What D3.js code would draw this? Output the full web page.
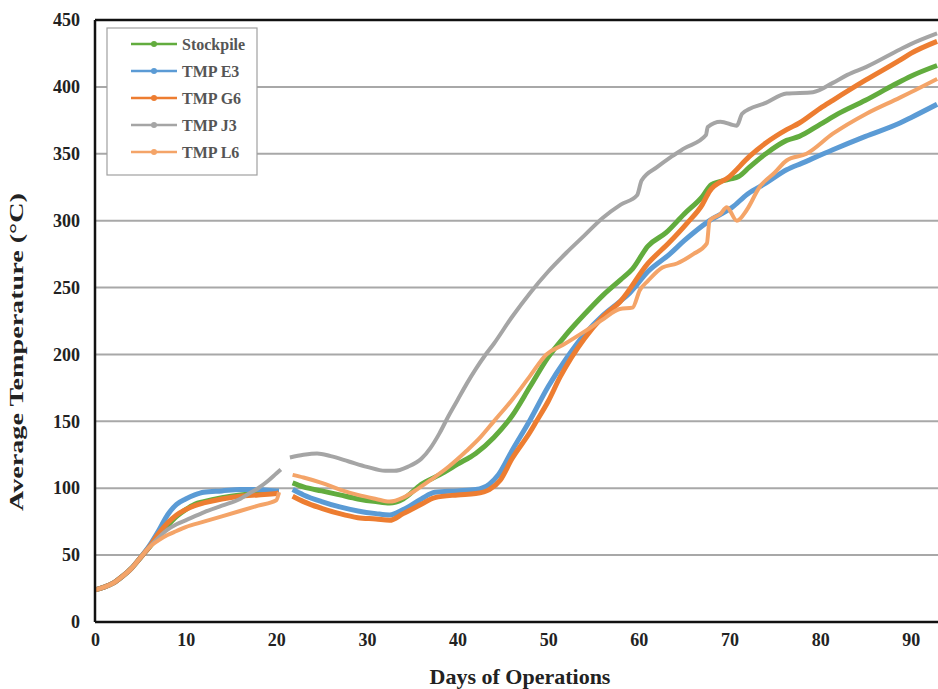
<!DOCTYPE html>
<html>
<head>
<meta charset="utf-8">
<script src="https://cdn.jsdelivr.net/npm/d3@7"></script>
<style>
  body { margin: 0; background: #fff; }
  text { font-family: "Liberation Serif", "Times New Roman", serif; font-weight: bold; }
</style>
</head>
<body>
<svg width="938" height="689"></svg>
<script>
// days / temperature (°C), null = gap in the record
const stockpile = [[0,24],[1,26],[2,29],[3,34],[4,40],[5,48],[6,56],[7,64],[8,72],[9,79],[10,84],[11,88],[12,90],[14,93],[16,95],[18,96],[20,97],[20.3,97],[21,null],
  [21.8,104],[23,101],[25,98],[27,95],[29,92],[31,90],[32.5,89],[34,92],[36,103],[38,110],[40,118],[42,126],[44,138],[46,154],[48,176],[50,198],[52,215],[54,230],[56,244],[58,256],[59.3,264],[61,281],[63,291],[65,305],[67,318],[68,327],[70,331],[71,333],[72.2,340],[74,350],[76.3,360],[77.7,363],[80,372],[82,380],[85,390],[88,401],[90,408],[92.9,416]];
const tmpE3 = [[0,24],[1,26],[2,29],[3,34],[4,40],[5,48],[6,57],[7,68],[8,80],[9,88],[10,92],[11,95],[12,97],[14,98],[16,99],[18,99],[20,98],[20.3,98],[21,null],
  [21.8,99],[23,95],[25,90],[27,86],[29,83],[31,81],[32.5,80],[34,84],[36,92],[37.5,97],[40,98],[42,99],[43.5,103],[44.5,110],[46,128],[48,151],[50,176],[52,197],[54,215],[56,229],[58,240],[59,246],[61,262],[63.4,275],[65,285],[67.8,300],[70.3,310],[72,320],[74,328],[76.3,338],[78,343],[81.4,353],[85,363],[88.8,373],[90,377],[92.9,387]];
const tmpG6 = [[0,24],[1,26],[2,29],[3,34],[4,40],[5,48],[6,56],[7,66],[8,74],[9,80],[10,84],[11,87],[12,89],[14,92],[16,94],[18,95],[20,96],[20.3,97],[21,null],
  [21.8,94],[23,90],[25,85],[27,81],[29,78],[31,77],[32.5,76],[34,81],[36,88],[37.5,93],[40,95],[42,96],[43.5,99],[44.7,106],[46,122],[48,142],[48.7,150],[50,165],[51.3,183],[54,212],[56,228],[58,240],[61,268],[63.4,284],[65.3,298],[67,312],[67.8,322],[70,333],[72.2,348],[74,358],[76.3,368],[77.7,373],[80,384],[81.4,390],[85,405],[88.8,420],[90,425],[92.9,434]];
const tmpJ3 = [[0,24],[1,26],[2,29],[3,34],[4,40],[5,48],[6,56],[7,63],[8,69],[9,73],[10,76],[12,82],[14,87],[16,92],[17,96],[18,100],[19,105],[20,111],[20.5,114],[21,null],
  [21.5,123],[23,125],[24.5,126],[26,124],[28,120],[30,116],[32,113],[33,113],[34.5,116],[36,122],[37,130],[38,141],[39,154],[40,166],[41,178],[42,189],[43,199],[44,208],[46,228],[48,246],[50,262],[52,276],[54,289],[56,302],[58,312],[59.8,319],[60.3,330],[62,340],[63.4,347],[65,354],[67.4,364],[67.6,370],[69,374],[70.8,371],[71.4,380],[74,388],[76.3,395],[79.2,396],[81.4,403],[83,409],[85.1,415],[88.8,428],[90,432],[92.9,440]];
const tmpL6 = [[0,24],[1,26],[2,29],[3,34],[4,40],[5,48],[6,56],[7,61],[8,65],[9,68],[10,71],[12,75],[14,79],[16,83],[18,87],[20,91],[20.3,97],[21,null],
  [21.8,110],[23,108],[25,104],[27,99],[29,95],[31,92],[32.5,90],[34,93],[35.5,99],[37,106],[39,116],[41,128],[42.5,138],[44,150],[46,166],[48,184],[49.8,200],[51.6,207],[54.2,218],[56,226],[57.9,234],[59.3,235],[60.1,248],[61,255],[62.6,265],[64.2,268],[66,275],[67.5,283],[67.8,300],[69,305],[69.7,310],[70.8,300],[71.9,308],[73.3,325],[75,336],[76.3,345],[78.5,350],[81.4,365],[85.1,380],[88.8,392],[90,396],[92.9,406]];

const seriesNames = ["Stockpile", "TMP E3", "TMP G6", "TMP J3", "TMP L6"];
const seriesData = [stockpile, tmpE3, tmpG6, tmpJ3, tmpL6];
const colors = ["#62ac3e", "#5b9bd5", "#ed7d31", "#a5a5a5", "#f4a468"];
const widths = [5, 5, 5, 4, 4];
const xTicks = [0, 10, 20, 30, 40, 50, 60, 70, 80, 90];
const yTicks = [0, 50, 100, 150, 200, 250, 300, 350, 400, 450];

const svg = d3.select("svg");
const x = d3.scaleLinear().domain([0, 93]).range([95, 938]);
const y = d3.scaleLinear().domain([0, 450]).range([622, 20]);

// horizontal grid
svg.append("g")
  .selectAll("line")
  .data(yTicks.slice(1, -1))
  .join("line")
  .attr("x1", x(0)).attr("x2", x(93))
  .attr("y1", d => y(d)).attr("y2", d => y(d))
  .attr("stroke", "#a8a8a8")
  .attr("stroke-width", 2);

// series
const line = d3.line()
  .defined(d => d[1] !== null)
  .x(d => x(d[0]))
  .y(d => y(d[1]))
  .curve(d3.curveMonotoneX);

svg.append("g")
  .selectAll("path")
  .data(seriesData)
  .join("path")
  .attr("d", line)
  .attr("fill", "none")
  .attr("stroke", (d, i) => colors[i])
  .attr("stroke-width", (d, i) => widths[i])
  .attr("stroke-linejoin", "round");

// frame: left, bottom, top
svg.append("line").attr("x1", x(0)).attr("x2", x(0)).attr("y1", y(450)).attr("y2", y(0))
  .attr("stroke", "#111").attr("stroke-width", 2.5);
svg.append("line").attr("x1", x(0)).attr("x2", x(93)).attr("y1", y(0)).attr("y2", y(0))
  .attr("stroke", "#111").attr("stroke-width", 2.5);
svg.append("line").attr("x1", x(0)).attr("x2", x(93)).attr("y1", y(450)).attr("y2", y(450))
  .attr("stroke", "#111").attr("stroke-width", 2.5);

// axes (labels only)
const yAxis = svg.append("g")
  .attr("transform", "translate(" + x(0) + ",0)")
  .call(d3.axisLeft(y).tickValues(yTicks).tickSize(0).tickPadding(15));
const xAxis = svg.append("g")
  .attr("transform", "translate(0," + y(0) + ")")
  .call(d3.axisBottom(x).tickValues(xTicks).tickSize(0).tickPadding(11));
[yAxis, xAxis].forEach(a => {
  a.select(".domain").remove();
  a.selectAll("text")
    .attr("font-family", "Liberation Serif, serif")
    .attr("font-weight", "bold")
    .attr("font-size", 18)
    .attr("fill", "#222");
});

svg.append("text")
  .attr("x", 520).attr("y", 684)
  .attr("text-anchor", "middle")
  .attr("font-size", 22)
  .attr("fill", "#222")
  .text("Days of Operations");

svg.append("text")
  .attr("transform", "translate(23,352) rotate(-90)")
  .attr("x", -159)
  .attr("textLength", 318)
  .attr("lengthAdjust", "spacingAndGlyphs")
  .attr("font-size", 18)
  .attr("fill", "#222")
  .text("Average Temperature (°C)");

// legend
const legend = svg.append("g");
legend.append("rect")
  .attr("x", 107).attr("y", 28).attr("width", 150).attr("height", 147)
  .attr("fill", "#fff").attr("stroke", "#a0a0a0").attr("stroke-width", 1.2);

const items = legend.selectAll("g.item")
  .data(seriesNames)
  .join("g")
  .attr("class", "item")
  .attr("transform", (d, i) => "translate(0," + (44 + i * 27) + ")");
items.append("line")
  .attr("x1", 131).attr("x2", 177).attr("y1", 0).attr("y2", 0)
  .attr("stroke", (d, i) => colors[i]).attr("stroke-width", 2.5);
items.append("circle")
  .attr("cx", 154).attr("cy", 0).attr("r", 3)
  .attr("fill", (d, i) => colors[i]);
items.append("text")
  .attr("x", 182).attr("y", 6)
  .attr("font-size", 16)
  .attr("fill", "#555")
  .text(d => d);
</script>
</body>
</html>
